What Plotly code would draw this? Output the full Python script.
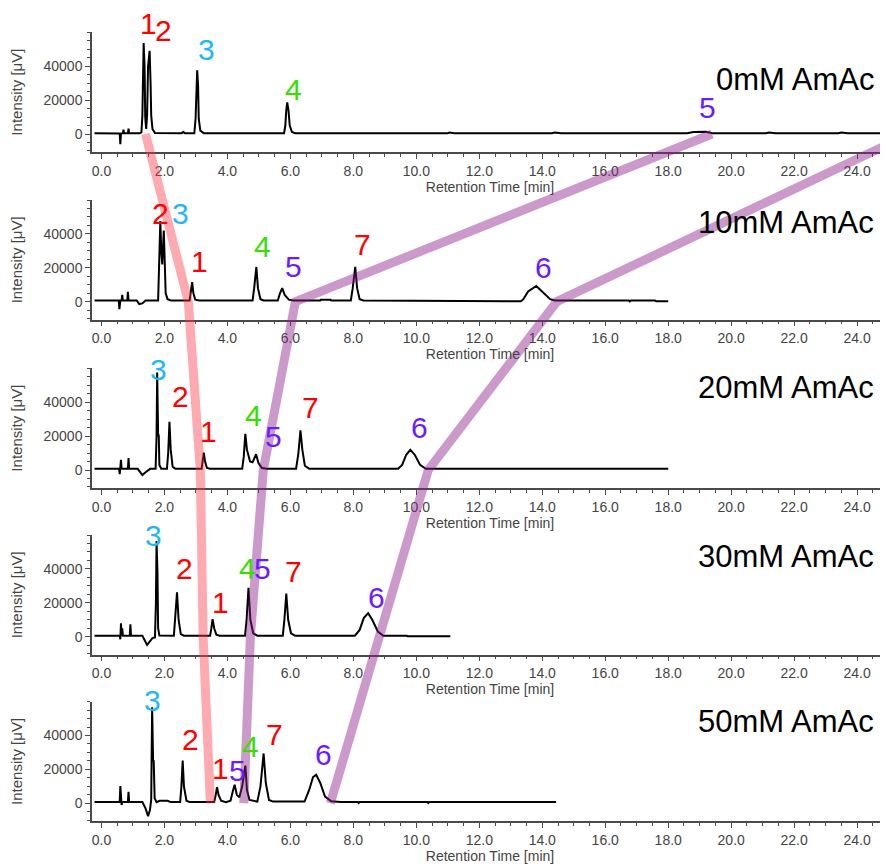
import plotly.graph_objects as go

# ---------------- data ----------------
panel_names = ["0mM AmAc", "10mM AmAc", "20mM AmAc", "30mM AmAc", "50mM AmAc"]

# chromatograms: retention time [min], intensity [uV]
t_0mM = [-0.22, 0.50, 0.58, 0.60, 0.62, 0.68, 0.70, 0.72, 0.84, 0.86, 0.88, 1.22, 1.27, 1.30, 1.32, 1.34,
         1.37, 1.39, 1.42, 1.45, 1.48, 1.53, 1.56, 1.58, 1.62, 1.70, 2.55, 2.60, 2.65, 2.95, 2.99, 3.02,
         3.04, 3.07, 3.09, 3.14, 3.25, 5.80, 5.84, 5.87, 5.90, 5.94, 5.98, 6.05, 6.15, 11.00, 11.05, 11.20,
         14.30, 14.40, 14.60, 18.60, 18.80, 19.20, 19.40, 21.10, 21.20, 21.40, 23.40, 23.50, 23.70, 25.00]
v_0mM = [400, 400, 300, -6000, 300, 400, 2500, 400, 400, 3200, 400, 400, 1000, 11000, 40000, 53700,
         40000, 10000, 3000, 11000, 40000, 49100, 30000, 11000, 3000, 600, 500, 1200, 500, 500, 9000, 30000,
         37600, 28000, 9000, 2000, 500, 500, 5000, 14000, 18700, 14000, 5000, 1200, 500, 400, 900, 400,
         400, 900, 400, 400, 1200, 1300, 400, 400, 900, 400, 400, 900, 400, 400]

t_10mM = [-0.22, 0.55, 0.57, 0.60, 0.64, 0.66, 0.68, 0.82, 0.84, 0.86, 1.12, 1.20, 1.30, 1.40, 1.80, 1.83,
          1.87, 1.90, 1.93, 1.98, 2.01, 2.04, 2.10, 2.20, 2.80, 2.84, 2.88, 2.92, 2.98, 3.10, 4.80, 4.85,
          4.92, 4.97, 5.05, 5.15, 5.60, 5.67, 5.74, 5.82, 5.95, 6.10, 6.95, 6.97, 7.27, 7.30, 7.92, 7.98,
          8.06, 8.12, 8.20, 8.32, 13.28, 13.32, 13.40, 13.55, 13.81, 14.05, 14.25, 14.40, 16.75, 16.78, 16.82,
          17.58, 17.62, 18.00]
v_10mM = [700, 700, -4400, 700, 700, 4000, 700, 700, 5900, 700, 700, -1400, -1000, 700, 700, 20000,
          47600, 30000, 22000, 42000, 20000, 5000, 1500, 700, 700, 5000, 11500, 5000, 1200, 700, 700, 8000,
          20500, 8000, 1500, 700, 700, 5000, 8000, 4000, 1200, 700, 700, 1200, 1200, 700, 700, 8000,
          20500, 8000, 1500, 700, 700, 300, 1500, 6000, 9300, 5000, 1500, 700, 700, 200, 700,
          700, 300, 300]

t_20mM = [-0.22, 0.56, 0.58, 0.60, 0.62, 0.64, 0.84, 0.86, 0.88, 1.15, 1.30, 1.42, 1.55, 1.72, 1.75, 1.77,
          1.80, 1.82, 1.84, 1.90, 2.08, 2.12, 2.16, 2.20, 2.26, 2.35, 3.18, 3.22, 3.25, 3.29, 3.35, 3.45,
          3.60, 3.70, 4.47, 4.52, 4.57, 4.62, 4.72, 4.80, 4.91, 4.99, 5.10, 5.25, 6.18, 6.25, 6.32, 6.38,
          6.46, 6.60, 9.42, 9.55, 9.68, 9.81, 9.95, 10.12, 10.30, 18.00]
v_20mM = [700, 700, -2500, 700, 6000, 700, 700, 7000, 700, 700, -3000, -1000, 700, 700, 20000, 57500,
          20000, 21000, 3000, 700, 700, 10000, 28400, 12000, 2000, 700, 700, 5000, 10300, 5000, 1200, 700,
          900, 700, 700, 8000, 21400, 12000, 5000, 4500, 9300, 4000, 1200, 700, 700, 9000, 23400, 12000,
          2500, 700, 700, 3000, 9000, 11900, 9000, 3000, 700, 700]

t_30mM = [-0.22, 0.58, 0.60, 0.62, 0.64, 0.66, 0.68, 0.90, 0.92, 0.94, 1.30, 1.45, 1.55, 1.62, 1.70, 1.73,
          1.75, 1.78, 1.80, 1.84, 2.30, 2.34, 2.40, 2.45, 2.52, 2.62, 3.45, 3.49, 3.53, 3.58, 3.65, 3.75,
          4.56, 4.61, 4.67, 4.73, 4.82, 4.95, 5.76, 5.81, 5.87, 5.93, 6.02, 6.15, 8.05, 8.20, 8.33, 8.47,
          8.60, 8.78, 8.95, 9.70, 9.72, 11.08]
v_30mM = [600, 600, -1500, 7900, 600, 5000, 600, 600, 7300, 600, 600, -4900, -2500, -800, -500, 20000,
          56500, 37600, 5000, 700, 600, 10000, 26200, 10000, 1500, 600, 600, 5000, 10300, 5000, 1200, 600,
          600, 10000, 28800, 10000, 2000, 600, 600, 10000, 25400, 10000, 2000, 600, 600, 4000, 11000, 13900,
          10000, 3000, 600, 600, 300, 300]

t_50mM = [-0.22, 0.58, 0.60, 0.62, 0.64, 0.66, 0.84, 0.86, 0.88, 1.30, 1.40, 1.48, 1.54, 1.58, 1.61, 1.64,
          1.66, 1.69, 1.75, 1.85, 2.10, 2.20, 2.50, 2.54, 2.58, 2.62, 2.70, 2.80, 3.58, 3.63, 3.67, 3.72,
          3.80, 3.95, 4.10, 4.17, 4.23, 4.30, 4.38, 4.47, 4.57, 4.62, 4.70, 4.95, 5.05, 5.15, 5.22, 5.32,
          5.45, 6.45, 6.60, 6.72, 6.82, 6.95, 7.10, 7.30, 7.60, 8.15, 8.17, 8.20, 10.36, 10.38, 10.41, 14.44]
v_50mM = [700, 700, 10200, 1000, -1000, 700, 700, 6800, 700, 700, -3000, -7600, -4000, 2000, 56600, 25400,
          25000, 3000, 700, 1500, 1500, 700, 700, 10000, 25200, 10000, 1500, 700, 700, 5000, 9500, 5000,
          1500, 700, 1500, 7000, 10900, 5000, 3500, 10000, 22200, 8000, 2000, 1000, 10000, 29400, 12000, 2000,
          1000, 1000, 8000, 15500, 16800, 12000, 4000, 1200, 700, 700, 200, 700, 700, 200, 700, 700]

traces_t = [t_0mM, t_10mM, t_20mM, t_30mM, t_50mM]
traces_v = [v_0mM, v_10mM, v_20mM, v_30mM, v_50mM]

# peak number labels per panel: text, retention time, intensity
lab_0mM = (["1", "2", "3", "4", "5"], [1.49, 1.97, 3.33, 6.10, 19.24], [64900, 60800, 49600, 26500, 15900])
lab_10mM = (["2", "3", "1", "4", "5", "7", "6"], [1.87, 2.51, 3.11, 5.11, 6.10, 8.29, 14.03],
            [52300, 52300, 23600, 32300, 20500, 33500, 19900])
lab_20mM = (["3", "2", "1", "4", "5", "7", "6"], [1.81, 2.51, 3.40, 4.83, 5.46, 6.63, 10.10],
            [59000, 43200, 22600, 32400, 19600, 36600, 24800])
lab_30mM = (["3", "2", "1", "4", "5", "7", "6"], [1.65, 2.63, 3.78, 4.63, 5.11, 6.10, 8.73],
            [60000, 40500, 19900, 40500, 40500, 38200, 23400])
lab_50mM = (["3", "2", "1", "5", "4", "7", "6"], [1.61, 2.83, 3.78, 4.32, 4.73, 5.49, 7.05],
            [60900, 37900, 20800, 19600, 33400, 40300, 28500])
labels = [lab_0mM, lab_10mM, lab_20mM, lab_30mM, lab_50mM]

# panel title vertical position (intensity units of each panel)
title_val = [31900, 47000, 48400, 47600, 48000]

# connecting bands: retention time of the compound at the baseline of each panel (0,10,20,30,50 mM)
band1_rt = [1.40, 2.76, 3.14, 3.23, 3.46]
band5_rt = [19.39, 6.16, 5.14, 4.73, 4.52]
band6_rt = [25.67, 14.46, 10.38, 8.86, 7.27]

compound_colors = {"1": "#ff0000", "2": "#ff0000", "7": "#ff0000",
                   "3": "#1fb8f2", "4": "#33e000", "5": "#6a1cff", "6": "#6a1cff"}

y_tickvals = [0, 20000, 40000]
x_tickvals = [0, 2, 4, 6, 8, 10, 12, 14, 16, 18, 20, 22, 24]

# ---------------- layout constants ----------------
PAGE_MARGIN = 8                      # default body margin of the html page
W, H = 888 - PAGE_MARGIN, 867 - PAGE_MARGIN
ZERO_PX = [z - PAGE_MARGIN for z in [134, 301.7, 470, 636.7, 803.3]]
PX_PER_UNIT = 33.9 / 20000
Y_MIN, Y_MAX = -10600, 60000
X_MIN, X_MAX = -0.3, 24.98
X_LEFT = (92 - PAGE_MARGIN) / W

fig = go.Figure()
axis_grey = "#4a4a4a"
tick_font = dict(family="Liberation Sans, Arial, sans-serif", size=14, color="#444444")
label_font = "Liberation Sans, Arial, sans-serif"

domains = []
for k in range(5):
    top_px = ZERO_PX[k] - Y_MAX * PX_PER_UNIT
    bot_px = ZERO_PX[k] - Y_MIN * PX_PER_UNIT
    domains.append([1 - bot_px / H, 1 - top_px / H])


def to_paper(k, v):
    d = domains[k]
    return d[0] + (v - Y_MIN) / (Y_MAX - Y_MIN) * (d[1] - d[0])


for k in range(5):
    sfx = "" if k == 0 else str(k + 1)
    fig.add_trace(go.Scatter(x=traces_t[k], y=traces_v[k], mode="lines",
                             line=dict(color="black", width=2), xaxis="x" + sfx, yaxis="y" + sfx,
                             showlegend=False, hoverinfo="skip"))
    fig.layout["xaxis" + sfx] = dict(
        domain=[X_LEFT, 1], range=[X_MIN, X_MAX], anchor="y" + sfx,
        showline=True, linecolor=axis_grey, linewidth=1.5, showgrid=False, zeroline=False,
        ticks="outside", ticklen=5, tickcolor=axis_grey, tickvals=x_tickvals,
        ticktext=["%.1f" % v for v in x_tickvals], tickfont=tick_font,
        minor=dict(dtick=0.5, ticklen=3, ticks="outside", tickcolor=axis_grey, showgrid=False),
        title=dict(text="Retention Time [min]", font=dict(family=label_font, size=14, color="#444444"),
                   standoff=1),
    )
    fig.layout["yaxis" + sfx] = dict(
        domain=domains[k], range=[Y_MIN, Y_MAX], anchor="x" + sfx,
        showline=True, linecolor=axis_grey, linewidth=1.5, showgrid=False, zeroline=False,
        ticks="outside", ticklen=5, tickcolor=axis_grey, tickvals=y_tickvals,
        ticktext=[str(v) for v in y_tickvals], tickfont=tick_font,
        minor=dict(tickvals=list(range(-10000, 60001, 5000)), ticklen=3, ticks="outside",
                   tickcolor=axis_grey, showgrid=False),
        title=dict(text="Intensity [μV]", font=dict(family=label_font, size=15, color="#444444"),
                   standoff=17),
    )
    txt, rts, vals = labels[k]
    for s, r, v in zip(txt, rts, vals):
        fig.add_annotation(x=r, y=to_paper(k, v), xref="x" + sfx, yref="paper", text=s, showarrow=False,
                           xanchor="center", yanchor="middle",
                           font=dict(family=label_font, size=30, color=compound_colors[s]))
    fig.add_annotation(x=24.6, y=to_paper(k, title_val[k]), xref="x" + sfx, yref="paper",
                       text=panel_names[k], showarrow=False, xanchor="right", yanchor="middle",
                       font=dict(family=label_font, size=31, color="black"))

# bands drawn on a transparent full-height overlay subplot (paper-fraction y)
baseline_paper = [to_paper(k, 0) for k in range(5)]
fig.layout["xaxis6"] = dict(domain=[X_LEFT, 1], range=[X_MIN, X_MAX], anchor="y6", visible=False)
fig.layout["yaxis6"] = dict(domain=[0, 1], range=[0, 1], anchor="x6", visible=False)
for rts, col in [(band1_rt, "rgba(255,50,70,0.42)"), (band5_rt, "rgba(140,30,140,0.45)"),
                 (band6_rt, "rgba(140,30,140,0.45)")]:
    fig.add_trace(go.Scatter(x=rts, y=baseline_paper, mode="lines", line=dict(color=col, width=9),
                             xaxis="x6", yaxis="y6", showlegend=False, hoverinfo="skip"))

fig.update_layout(width=W, height=H, margin=dict(l=0, r=0, t=0, b=0),
                  paper_bgcolor="white", plot_bgcolor="rgba(0,0,0,0)", showlegend=False)
fig.write_html("out.html")
